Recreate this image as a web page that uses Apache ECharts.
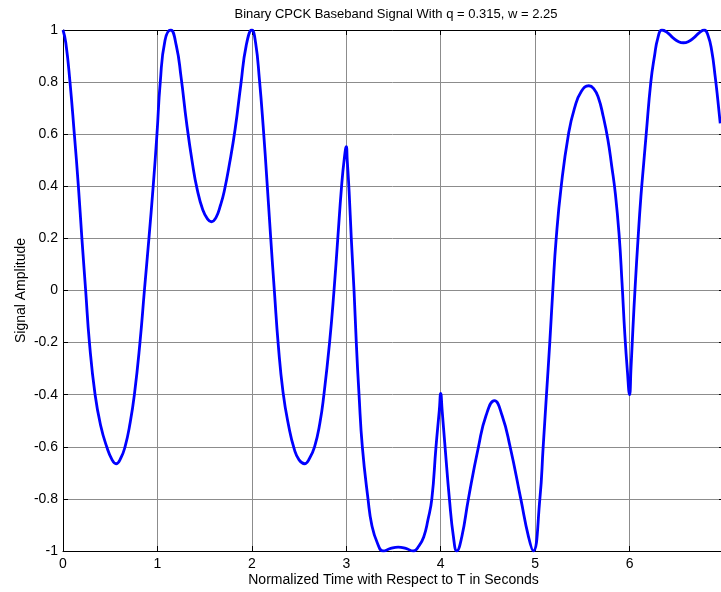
<!DOCTYPE html>
<html>
<head>
<meta charset="utf-8">
<script src="https://cdn.jsdelivr.net/npm/echarts/dist/echarts.min.js"></script>
<style>
html,body{margin:0;padding:0;background:#ffffff;}
#chart{width:721px;height:592px;}
</style>
</head>
<body>
<div id="chart"></div>
<script>
// ---- chart data ----
const chartTitle = 'Binary CPCK Baseband Signal With q = 0.315, w = 2.25';
const xAxisTitle = 'Normalized Time with Respect to T in Seconds';
const yAxisTitle = 'Signal Amplitude';
const xTickLabels = ['0', '1', '2', '3', '4', '5', '6'];
const yTickLabels = ['-1', '-0.8', '-0.6', '-0.4', '-0.2', '0', '0.2', '0.4', '0.6', '0.8', '1'];

const timeValues = [
  0.00, 0.03, 0.074, 0.12, 0.163, 0.20, 0.24, 0.28, 0.34, 0.40, 0.463, 0.52, 0.562, 0.61, 0.657, 0.71, 0.756, 0.815, 0.862, 0.91, 0.955, 0.995,
  1.03, 1.08, 1.14, 1.20, 1.25, 1.31, 1.37, 1.42, 1.48, 1.53, 1.57, 1.62, 1.67, 1.707, 1.765, 1.823, 1.883, 1.94,
  2.00, 2.04, 2.08, 2.12, 2.16, 2.20, 2.24, 2.28, 2.33, 2.39, 2.45, 2.50, 2.558, 2.61, 2.664, 2.72, 2.763, 2.823, 2.87, 2.91, 2.95, 2.98,
  3.00, 3.01, 3.03, 3.053, 3.082, 3.106, 3.135, 3.17, 3.23, 3.27, 3.33, 3.39, 3.47, 3.55, 3.63, 3.71, 3.77, 3.82, 3.865, 3.906, 3.95, 3.985,
  4.00, 4.015, 4.046, 4.092, 4.135, 4.17, 4.223, 4.293, 4.40, 4.48, 4.569, 4.65, 4.735, 4.848, 4.93, 4.98,
  5.05, 5.085, 5.12, 5.155, 5.187, 5.223, 5.276, 5.353, 5.417, 5.49, 5.569, 5.62, 5.67, 5.72, 5.77, 5.81, 5.85, 5.89, 5.92, 5.95, 5.977,
  6.00, 6.015, 6.035, 6.06, 6.09, 6.12, 6.15, 6.176, 6.225, 6.264, 6.30, 6.342, 6.40, 6.46, 6.52, 6.57, 6.62, 6.68, 6.74, 6.79, 6.83, 6.87, 6.907, 6.935, 6.96
];
const amplitudeValues = [
  1.00, 0.95, 0.80, 0.60, 0.40, 0.20, 0.00, -0.20, -0.40, -0.52, -0.60, -0.65, -0.665, -0.645, -0.60, -0.51, -0.40, -0.20, 0.00, 0.20, 0.40, 0.60,
  0.80, 0.96, 1.00, 0.94, 0.82, 0.64, 0.49, 0.39, 0.31, 0.275, 0.264, 0.28, 0.33, 0.38, 0.49, 0.62, 0.79, 0.94,
  1.00, 0.95, 0.81, 0.63, 0.42, 0.20, -0.01, -0.21, -0.39, -0.52, -0.61, -0.65, -0.665, -0.645, -0.60, -0.51, -0.40, -0.20, 0.00, 0.20, 0.40, 0.51,
  0.552, 0.50, 0.38, 0.20, 0.00, -0.20, -0.40, -0.60, -0.80, -0.90, -0.97, -1.00, -0.99, -0.985, -0.99, -1.00, -0.98, -0.946, -0.88, -0.80, -0.60, -0.46,
  -0.395, -0.46, -0.60, -0.80, -0.946, -1.00, -0.946, -0.80, -0.60, -0.48, -0.423, -0.48, -0.60, -0.80, -0.946, -1.00,
  -0.80, -0.60, -0.40, -0.20, 0.00, 0.20, 0.40, 0.60, 0.70, 0.765, 0.786, 0.775, 0.74, 0.67, 0.58, 0.48, 0.37, 0.21, 0.03, -0.17, -0.31,
  -0.40, -0.30, -0.15, 0.02, 0.20, 0.36, 0.49, 0.60, 0.80, 0.90, 0.97, 1.00, 0.99, 0.97, 0.955, 0.951, 0.955, 0.97, 0.99, 1.00, 0.98, 0.92, 0.82, 0.73, 0.642
];

// ---- build the chart ----
const fontFamily = '"Liberation Sans", Arial, Helvetica, sans-serif';
const seriesData = timeValues.map((t, i) => [t, amplitudeValues[i]]);
const xMin = Number(xTickLabels[0]);
const yMin = Number(yTickLabels[0]);
const yMax = Number(yTickLabels[yTickLabels.length - 1]);

const chart = echarts.init(document.getElementById('chart'), null, {renderer: 'canvas'});
const axisLineStyle = {color: '#000000', width: 1};
const gridLineStyle = {color: '#8c8c8c', width: 1, type: 'solid'};

chart.setOption({
  animation: false,
  backgroundColor: '#ffffff',
  title: {
    text: chartTitle,
    left: 391,
    top: 3,
    textAlign: 'center',
    textStyle: {fontFamily: fontFamily, fontSize: 13, fontWeight: 'normal', color: '#000000'}
  },
  grid: {left: 63, right: -3, top: 30, bottom: 41, containLabel: false, outerBoundsMode: 'none'},
  xAxis: [
    {
      type: 'value', position: 'bottom', min: xMin, max: 7, interval: 1,
      name: xAxisTitle, nameLocation: 'middle', nameGap: 22, nameMoveOverlap: false,
      nameTextStyle: {fontFamily: fontFamily, fontSize: 14, color: '#000000'},
      axisLine: {show: true, onZero: false, lineStyle: axisLineStyle},
      axisTick: {show: true, inside: true, length: 5, lineStyle: axisLineStyle},
      axisLabel: {
        show: true, margin: 6, fontFamily: fontFamily, fontSize: 14, color: '#000000',
        formatter: v => (xTickLabels.indexOf(String(Math.round(v))) >= 0 && Math.abs(v - Math.round(v)) < 1e-6) ? String(Math.round(v)) : ''
      },
      splitLine: {show: true, lineStyle: gridLineStyle}
    },
    {
      type: 'value', position: 'top', min: xMin, max: 7, interval: 1,
      axisLine: {show: true, onZero: false, lineStyle: axisLineStyle},
      axisTick: {show: true, inside: true, length: 5, lineStyle: axisLineStyle},
      axisLabel: {show: false},
      splitLine: {show: false}
    }
  ],
  yAxis: [
    {
      type: 'value', position: 'left', min: yMin, max: yMax, interval: 0.2,
      name: yAxisTitle, nameLocation: 'middle', nameGap: 35, nameRotate: 90, nameMoveOverlap: false,
      nameTextStyle: {fontFamily: fontFamily, fontSize: 14, color: '#000000'},
      axisLine: {show: true, onZero: false, lineStyle: axisLineStyle},
      axisTick: {show: true, inside: true, length: 5, lineStyle: axisLineStyle},
      axisLabel: {
        show: true, margin: 5, fontFamily: fontFamily, fontSize: 14, color: '#000000',
        formatter: v => {
          const idx = Math.round((v - yMin) / 0.2);
          return yTickLabels[idx] !== undefined ? yTickLabels[idx] : '';
        }
      },
      splitLine: {show: true, lineStyle: gridLineStyle}
    },
    {
      type: 'value', position: 'right', min: yMin, max: yMax, interval: 0.2,
      axisLine: {show: true, onZero: false, lineStyle: axisLineStyle},
      axisTick: {show: true, inside: true, length: 5, lineStyle: axisLineStyle},
      axisLabel: {show: false},
      splitLine: {show: false}
    }
  ],
  series: [
    {
      type: 'line',
      xAxisIndex: 0,
      yAxisIndex: 0,
      data: seriesData,
      showSymbol: false,
      smooth: 0.5,
      clip: true,
      lineStyle: {color: '#0000ff', width: 2.8},
      itemStyle: {color: '#0000ff'}
    }
  ]
});
</script>
</body>
</html>
